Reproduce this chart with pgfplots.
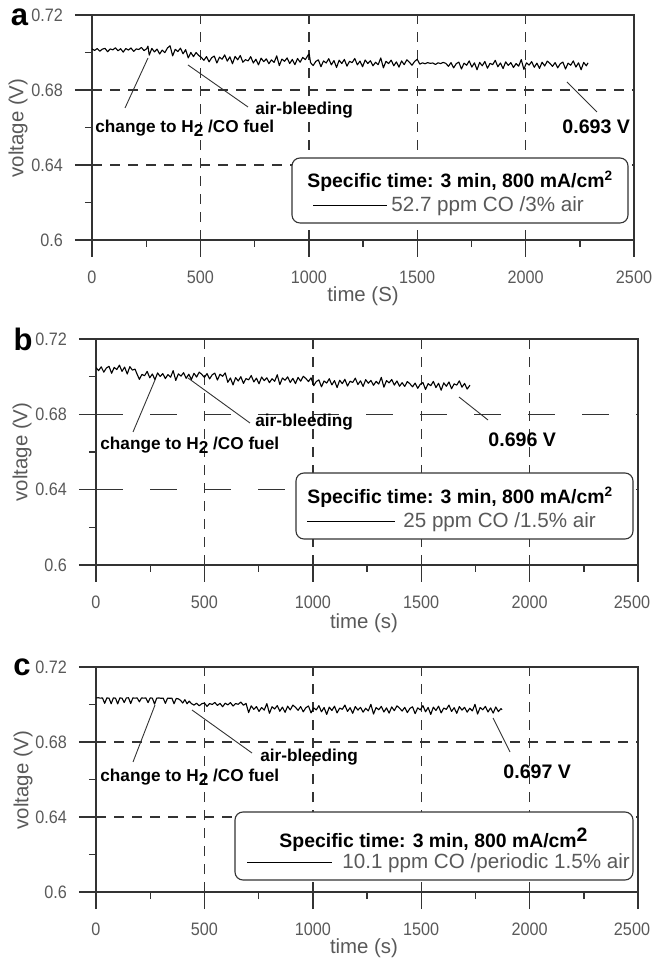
\documentclass[border=0pt]{standalone}
\usepackage{pgfplots}
\pgfplotsset{compat=1.18}
\usepackage{graphicx}
\usepackage{fontspec}
\setmainfont{Liberation Sans}
\newcommand\tl[1]{\scalebox{0.9}[1]{#1}}
\definecolor{axgray}{gray}{0.2}
\definecolor{txtgray}{gray}{0.35}
\pgfplotsset{
 myax/.style={
  scale only axis, width=271pt, height=112.5pt, anchor=south west,
  xmin=0,xmax=2500,ymin=0.6,ymax=0.72,
  xtick={0,500,1000,1500,2000,2500},
  xticklabels={\tl{0},\tl{500},\tl{1000},\tl{1500},\tl{2000},\tl{2500}},
  minor xtick={250,750,1250,1750,2250},
  ytick={0.6,0.64,0.68,0.72},
  yticklabels={\tl{0.6},\tl{0.64},\tl{0.68},\tl{0.72}},
  minor ytick={0.62,0.66,0.70},
  tick pos=left, tick align=outside,
  major tick length=8.5pt, minor tick length=3.5pt,
  axis line style={draw=axgray, line width=0.7pt},
  tick style={draw=axgray, line width=0.7pt},
  xmajorgrids, ymajorgrids,
  major grid style={draw=black!80, line width=0.7pt, dash pattern=on 5pt off 4pt},
  tick label style={font=\fontsize{9}{10}\selectfont, text=txtgray},
  yticklabel style={xshift=-2.5pt},
  xticklabel style={yshift=-3.3pt},
 },
 edgelab/.style={xticklabels={\tl{0},\tl{500},\tl{1000},\tl{1500},\tl{2000},\hbox{\tl{2500}\kern6pt}}},
 dat/.style={black, line width=0.55pt, line join=round, mark=none},
}
\tikzset{
 ann/.style={anchor=west, inner sep=0pt, font=\fontsize{8.6}{9}\selectfont\bfseries},
 val/.style={anchor=west, inner sep=0pt, font=\fontsize{9.8}{10}\selectfont\bfseries},
 lead/.style={black!80, line width=0.45pt},
 lg1/.style={anchor=west, inner sep=0pt, font=\fontsize{9.7}{10}\selectfont\bfseries},
 lg2/.style={anchor=west, inner sep=0pt, font=\fontsize{10.3}{11}\selectfont, text=txtgray},
 axl/.style={inner sep=0pt, font=\fontsize{10.2}{11}\selectfont, text=txtgray},
 let/.style={inner sep=0pt, font=\fontsize{15.5}{15}\selectfont\bfseries},
}
\begin{document}
\begin{tikzpicture}
\useasboundingbox (0,0) rectangle (326pt,479pt);
% ---------------- panel a : 52.7 ppm CO / 3% air
\begin{axis}[myax, at={(46pt,359pt)}]
\addplot[dat] coordinates {
(0,0.7019)(12,0.7011)(24,0.7021)(36,0.7007)(48,0.7018)(60,0.7022)(72,0.7004)(84,0.7019)(96,0.7014)(108,0.7025)
(120,0.7009)(132,0.7020)(144,0.7002)(156,0.7021)(168,0.7013)(180,0.7024)(192,0.7006)(204,0.7019)(216,0.7016)(228,0.7027)
(240,0.7010)(252,0.7020)(258,0.7034)(264,0.6986)(276,0.7022)(288,0.7003)(300,0.7018)(312,0.6992)(324,0.7013)(336,0.6999)
(348,0.7024)(360,0.7036)(372,0.6982)(384,0.7017)(396,0.7005)(408,0.7023)(420,0.6993)(432,0.7015)(444,0.6971)(456,0.7000)
(468,0.6978)(480,0.7000)(492,0.6984)(504,0.6974)(516,0.6958)(528,0.6978)(540,0.6950)(552,0.6972)(564,0.6981)(576,0.6944)
(588,0.6975)(600,0.6964)(612,0.6987)(624,0.6954)(636,0.6977)(648,0.6940)(660,0.6979)(672,0.6961)(684,0.6984)(696,0.6948)
(708,0.6962)(720,0.6955)(732,0.6978)(744,0.6944)(756,0.6964)(768,0.6934)(780,0.6970)(792,0.6951)(804,0.6966)(816,0.6940)
(828,0.6961)(840,0.6947)(852,0.6982)(864,0.6930)(876,0.6965)(888,0.6953)(900,0.6971)(912,0.6941)(924,0.6963)(936,0.6935)
(948,0.6968)(960,0.6948)(972,0.6974)(984,0.6962)(996,0.6985)(1002,0.6992)(1008,0.6946)(1020,0.6930)(1032,0.6952)(1044,0.6961)
(1056,0.6924)(1068,0.6955)(1080,0.6944)(1092,0.6967)(1104,0.6934)(1116,0.6957)(1128,0.6920)(1140,0.6959)(1152,0.6941)(1164,0.6963)
(1176,0.6927)(1188,0.6953)(1200,0.6946)(1212,0.6968)(1224,0.6934)(1236,0.6954)(1248,0.6924)(1260,0.6960)(1272,0.6941)(1284,0.6956)
(1296,0.6929)(1308,0.6948)(1320,0.6935)(1332,0.6971)(1344,0.6918)(1356,0.6953)(1368,0.6941)(1380,0.6959)(1392,0.6929)(1404,0.6950)
(1416,0.6922)(1428,0.6955)(1440,0.6935)(1452,0.6961)(1464,0.6948)(1476,0.6932)(1488,0.6952)(1500,0.6964)(1512,0.6938)(1524,0.6945)
(1536,0.6940)(1548,0.6946)(1560,0.6942)(1572,0.6944)(1584,0.6936)(1596,0.6945)(1608,0.6941)(1620,0.6947)(1632,0.6942)(1644,0.6926)
(1656,0.6946)(1668,0.6918)(1680,0.6940)(1692,0.6949)(1704,0.6912)(1716,0.6943)(1728,0.6932)(1740,0.6955)(1752,0.6922)(1764,0.6945)
(1776,0.6908)(1788,0.6947)(1800,0.6929)(1812,0.6952)(1824,0.6916)(1836,0.6942)(1848,0.6935)(1860,0.6958)(1872,0.6924)(1884,0.6944)
(1896,0.6914)(1908,0.6950)(1920,0.6931)(1932,0.6946)(1944,0.6920)(1956,0.6941)(1968,0.6927)(1980,0.6962)(1992,0.6910)(2004,0.6945)
(2016,0.6933)(2028,0.6951)(2040,0.6921)(2052,0.6943)(2064,0.6915)(2076,0.6948)(2088,0.6928)(2100,0.6954)(2112,0.6942)(2124,0.6926)
(2136,0.6946)(2148,0.6918)(2160,0.6940)(2172,0.6949)(2184,0.6912)(2196,0.6943)(2208,0.6932)(2220,0.6955)(2232,0.6922)(2244,0.6945)
(2256,0.6908)(2268,0.6947)(2280,0.6929)(2288,0.6945)
};
\end{axis}
% ---------------- panel b : 25 ppm CO / 1.5% air
\begin{axis}[myax, edgelab, at={(48pt,196.5pt)}, height=113pt,
  major y grid style={dash pattern=on 13.5pt off 13.5pt}]
\addplot[dat] coordinates {
(0,0.7048)(12,0.7032)(24,0.7052)(36,0.7024)(48,0.7046)(60,0.7055)(72,0.7018)(84,0.7049)(96,0.7038)(108,0.7061)
(120,0.7028)(132,0.7051)(144,0.7014)(156,0.7053)(168,0.7035)(180,0.7040)(190,0.7012)(200,0.6986)(212,0.7012)(224,0.7005)
(236,0.7028)(248,0.6994)(260,0.7014)(272,0.6984)(284,0.7020)(296,0.7001)(308,0.7016)(320,0.6990)(332,0.7011)(344,0.6997)
(356,0.7032)(368,0.6980)(380,0.7015)(392,0.7003)(404,0.7021)(416,0.6991)(428,0.7013)(440,0.6985)(452,0.7018)(464,0.6998)
(476,0.7024)(488,0.7012)(500,0.6996)(512,0.7016)(524,0.6988)(536,0.7010)(548,0.7019)(560,0.6982)(572,0.7013)(584,0.7002)
(596,0.7020)(608,0.6970)(620,0.6993)(632,0.6956)(644,0.6995)(656,0.6977)(668,0.7000)(680,0.6964)(692,0.6990)(704,0.6983)
(716,0.7006)(728,0.6972)(740,0.6992)(752,0.6962)(764,0.6998)(776,0.6979)(788,0.6994)(800,0.6968)(812,0.6989)(824,0.6975)
(836,0.7010)(848,0.6958)(860,0.6993)(872,0.6981)(884,0.6999)(896,0.6969)(908,0.6991)(920,0.6963)(932,0.6996)(944,0.6976)
(956,0.7002)(968,0.6990)(980,0.6974)(992,0.6994)(1004,0.6952)(1016,0.6974)(1028,0.6983)(1040,0.6946)(1052,0.6977)(1064,0.6966)
(1076,0.6989)(1088,0.6956)(1100,0.6979)(1112,0.6942)(1124,0.6981)(1136,0.6963)(1148,0.6986)(1160,0.6950)(1172,0.6976)(1184,0.6969)
(1196,0.6992)(1208,0.6958)(1220,0.6978)(1232,0.6948)(1244,0.6984)(1256,0.6965)(1268,0.6980)(1280,0.6954)(1292,0.6975)(1304,0.6961)
(1316,0.6996)(1328,0.6944)(1340,0.6979)(1352,0.6967)(1364,0.6985)(1376,0.6955)(1388,0.6977)(1400,0.6949)(1412,0.6968)(1424,0.6948)
(1436,0.6974)(1448,0.6962)(1460,0.6946)(1472,0.6966)(1484,0.6938)(1496,0.6960)(1508,0.6969)(1520,0.6932)(1532,0.6963)(1544,0.6952)
(1556,0.6975)(1568,0.6942)(1580,0.6965)(1592,0.6928)(1604,0.6967)(1616,0.6949)(1628,0.6972)(1640,0.6936)(1652,0.6962)(1664,0.6955)
(1676,0.6978)(1688,0.6944)(1700,0.6964)(1712,0.6934)(1725,0.6955)
};
\end{axis}
% ---------------- panel c : 10.1 ppm CO / periodic 1.5% air
\begin{axis}[myax, edgelab, at={(48pt,33pt)}]
\addplot[dat] coordinates {
(0,0.7035)(10,0.7036)(20,0.7034)(30,0.7035)(40,0.7006)(50,0.7035)(60,0.7034)(70,0.7004)(80,0.7035)(90,0.7034)
(100,0.7003)(110,0.7035)(120,0.7034)(130,0.7010)(140,0.7035)(150,0.7036)(160,0.7005)(170,0.7035)(180,0.7034)(190,0.7035)
(200,0.7014)(210,0.7035)(220,0.7034)(230,0.7035)(240,0.7010)(250,0.7035)(260,0.7034)(270,0.7002)(280,0.7034)(290,0.7035)
(300,0.7033)(310,0.7034)(320,0.7006)(330,0.7034)(340,0.7033)(350,0.7034)(360,0.7004)(370,0.7032)(380,0.7030)(390,0.7022)
(400,0.7008)(410,0.7026)(420,0.7004)(430,0.7018)(440,0.7005)(452,0.6997)(464,0.7007)(476,0.6993)(488,0.7004)(500,0.7008)
(512,0.6990)(524,0.7005)(536,0.7000)(548,0.7011)(560,0.6995)(572,0.7006)(584,0.6988)(596,0.7007)(608,0.6998)(620,0.7010)
(632,0.6992)(644,0.7005)(656,0.7001)(668,0.7013)(680,0.6996)(692,0.7006)(704,0.6957)(716,0.6993)(728,0.6974)(740,0.6989)
(752,0.6963)(764,0.6984)(776,0.6970)(788,0.7005)(800,0.6953)(812,0.6988)(824,0.6976)(836,0.6994)(848,0.6964)(860,0.6986)
(872,0.6958)(884,0.6991)(896,0.6971)(908,0.6997)(920,0.6985)(932,0.6969)(944,0.6989)(956,0.6961)(968,0.6983)(980,0.6992)
(992,0.6955)(1004,0.6982)(1016,0.6971)(1028,0.6994)(1040,0.6961)(1052,0.6984)(1064,0.6947)(1076,0.6986)(1088,0.6968)(1100,0.6991)
(1112,0.6955)(1124,0.6981)(1136,0.6974)(1148,0.6997)(1160,0.6963)(1172,0.6983)(1184,0.6953)(1196,0.6989)(1208,0.6970)(1220,0.6985)
(1232,0.6959)(1244,0.6980)(1256,0.6966)(1268,0.7001)(1280,0.6949)(1292,0.6984)(1304,0.6972)(1316,0.6990)(1328,0.6960)(1340,0.6982)
(1352,0.6954)(1364,0.6987)(1376,0.6967)(1388,0.6993)(1400,0.6981)(1412,0.6965)(1424,0.6985)(1436,0.6957)(1448,0.6979)(1460,0.6988)
(1472,0.6951)(1484,0.6982)(1496,0.6971)(1508,0.6994)(1520,0.6961)(1532,0.6984)(1544,0.6947)(1556,0.6986)(1568,0.6968)(1580,0.6991)
(1592,0.6955)(1604,0.6981)(1616,0.6974)(1628,0.6997)(1640,0.6963)(1652,0.6983)(1664,0.6953)(1676,0.6989)(1688,0.6970)(1700,0.6985)
(1712,0.6959)(1724,0.6980)(1736,0.6966)(1748,0.7001)(1760,0.6949)(1772,0.6984)(1784,0.6972)(1796,0.6990)(1808,0.6960)(1820,0.6982)
(1832,0.6954)(1844,0.6987)(1856,0.6962)(1868,0.6978)(1873,0.6972)
};
\end{axis}
% ---------------- annotations (pixel grid of the reference, y upwards)
\begin{scope}[x=0.5pt,y=0.5pt]
\node[let] at (19.5,940.5) {a};
\node[let] at (23,619) {b};
\node[let] at (22,291) {c};
\node[axl, rotate=90] at (18,830) {voltage (V)};
\node[axl, rotate=90] at (22,506) {voltage (V)};
\node[axl, rotate=90] at (23,178) {voltage (V)};
\node[axl] at (363,662) {time (S)};
\node[axl] at (364,335) {time (s)};
\node[axl] at (364,10) {time (s)};
% panel a
\node[ann] at (95,830) {change to H\raisebox{-2pt}{2} /CO fuel};
\draw[lead] (125,850) -- (148,900);
\node[ann] at (255,848) {air-bleeding};
\draw[lead] (248,851) -- (188,893);
\node[val] at (562,831) {0.693 V};
\draw[lead] (597,846) -- (567,876);
\draw[axgray, line width=0.55pt, rounded corners=4pt, fill=white] (292,735) rectangle (628,800);
\node[lg1] at (307,777) {Specific time: 3 min, 800 mA/cm\textsuperscript{2}};
\draw[black, line width=0.5pt] (313,752) -- (387,752);
\node[lg2] at (391,752) {52.7 ppm CO /3\% air};
% panel b
\node[ann] at (100,513) {change to H\raisebox{-2pt}{2} /CO fuel};
\draw[lead] (133,526) -- (155,578);
\node[ann] at (255,536) {air-bleeding};
\draw[lead] (250,535) -- (188,580);
\node[val] at (488,518) {0.696 V};
\draw[lead] (488,538) -- (459,561);
\draw[axgray, line width=0.55pt, rounded corners=4pt, fill=white] (296,419) rectangle (633,485);
\node[lg1] at (307,461) {Specific time: 3 min, 800 mA/cm\textsuperscript{2}};
\draw[black, line width=0.5pt] (307,436) -- (395,436);
\node[lg2] at (403,436) {25 ppm CO /1.5\% air};
% panel c
\node[ann] at (100,181) {change to H\raisebox{-2pt}{2} /CO fuel};
\draw[lead] (133,196) -- (155,253);
\node[ann] at (260,201) {air-bleeding};
\draw[lead] (252,205) -- (192,248);
\node[val] at (503,186) {0.697 V};
\draw[lead] (510,206) -- (493,240);
\draw[axgray, line width=0.55pt, rounded corners=4pt, fill=white] (235,78) rectangle (633,146);
\node[lg1, anchor=center] at (433.5,118) {Specific time: 3 min, 800 mA/cm\raisebox{3pt}{2}};
\draw[black, line width=0.5pt] (247,95) -- (332,95);
\node[lg2] at (342,95) {10.1 ppm CO /periodic 1.5\% air};
\end{scope}
\end{tikzpicture}
\end{document}
